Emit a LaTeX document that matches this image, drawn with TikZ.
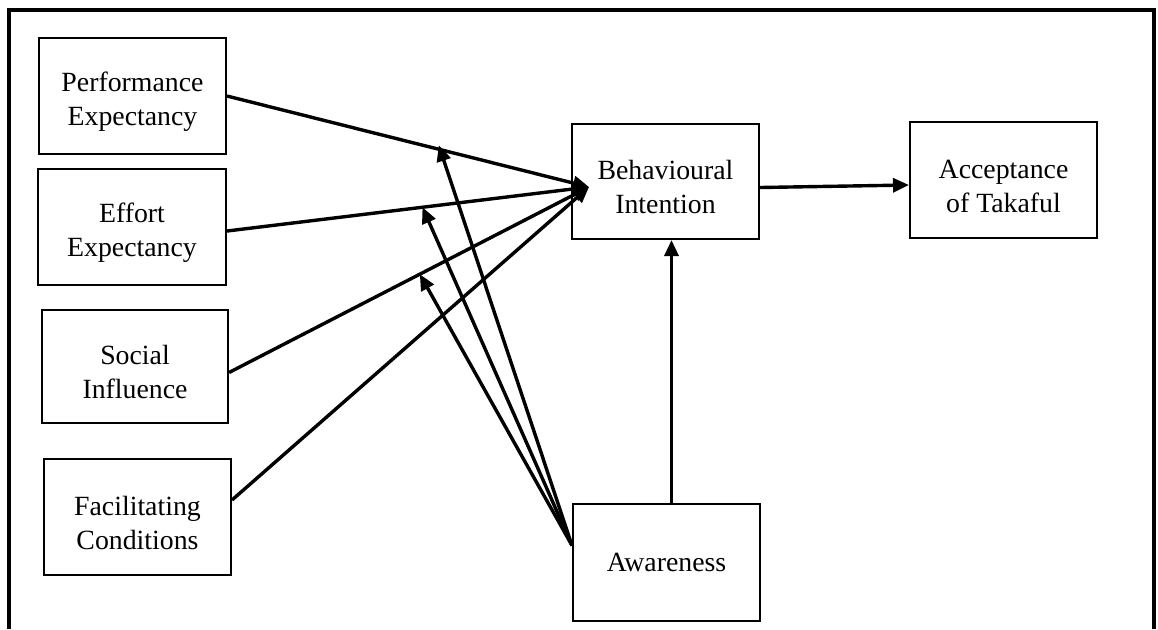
\documentclass[tikz,border=0pt]{standalone}
\usepackage{fontspec}
\setmainfont{Liberation Serif}
\usepackage{tikz}
\usetikzlibrary{arrows.meta, calc}
\newcommand\liftline{\rule{0pt}{15.5pt}}

\begin{document}
\begin{tikzpicture}[x=0.5pt, y=-0.5pt, >={Triangle[length=8pt,width=7pt]},
    box/.style={draw, line width=1pt, align=center, inner sep=0pt,
        font=\fontsize{13.9}{17}\selectfont},
    link/.style={->, line width=1.7pt}]
    \useasboundingbox (0,0) rectangle (1158,629);
    \draw[line width=1.9pt] (9,629) -- (9,10) -- (1154,10) -- (1154,629);

    \node[box, minimum width=93.5pt, minimum height=58pt] (pe) at (132.5,96) {\liftline Performance\\Expectancy};
    \node[box, minimum width=94pt, minimum height=58pt] (ee) at (132,227) {\liftline Effort\\Expectancy};
    \node[box, minimum width=93pt, minimum height=56.5pt] (si) at (135,366.5) {\liftline Social\\Influence};
    \node[box, minimum width=93.5pt, minimum height=58pt] (fc) at (137.5,517) {\liftline Facilitating\\Conditions};

    \node[box, minimum width=93.5pt, minimum height=57.5pt] (bi) at (665.5,181.5) {\liftline Behavioural\\Intention};
    \node[box, minimum width=93.5pt, minimum height=58pt] (at) at (1003.5,180) {\liftline Acceptance\\of Takaful};
    \node[box, minimum width=93.5pt, minimum height=58.5pt] (aw) at (666.5,562.5) {Awareness};

    \coordinate (bi-in) at (589,187);
    \coordinate (aw-out) at ([yshift=8.5pt]aw.west);

    % paths into behavioural intention
    \draw[link] (pe.east) -- (bi-in);
    \draw[link] ([yshift=-2pt]ee.east) -- (bi-in);
    \draw[link] ([yshift=-3pt]si.east) -- (bi-in);
    \draw[link] ([yshift=8.5pt]fc.east) -- (bi-in);

    % moderating effects of awareness
    \coordinate (m1) at ($(pe.east)!0.585!(bi-in) + (0,-4)$);
    \coordinate (m2) at ($([yshift=-2pt]ee.east)!0.54!(bi-in)$);
    \coordinate (m3) at ($([yshift=-3pt]si.east)!0.53!(bi-in)$);
    \draw[link] (aw-out) -- (m1);
    \draw[link] (aw-out) -- (m2);
    \draw[link] (aw-out) -- (m3);

    \draw[link] ([xshift=2.5pt]aw.north) -- ([xshift=2.5pt]aw.north |- bi.south);
    \draw[link] ([yshift=-3pt]bi.east) -- ([yshift=-2.5pt]at.west);
\end{tikzpicture}
\end{document}
